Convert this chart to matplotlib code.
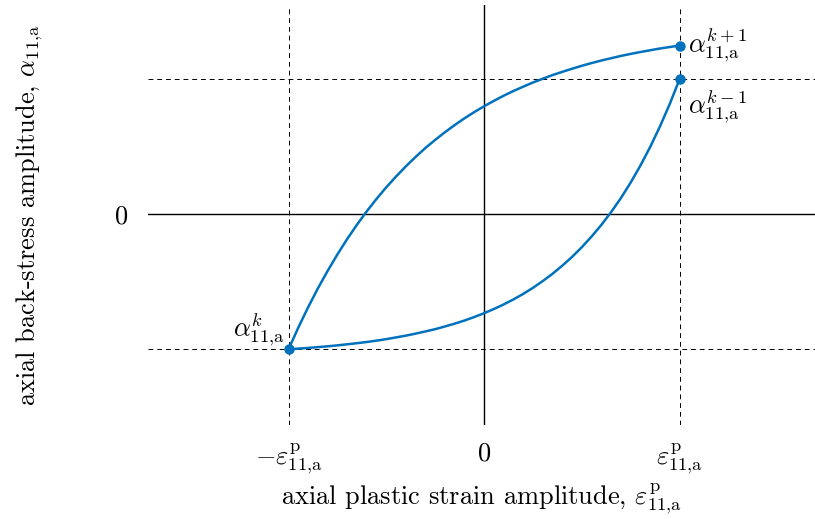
import matplotlib
matplotlib.use("Agg")
import matplotlib.pyplot as plt

plt.rcParams["font.family"] = "serif"
plt.rcParams["font.serif"] = ["cmr10", "DejaVu Serif"]
plt.rcParams["mathtext.fontset"] = "cm"
plt.rcParams["axes.formatter.use_mathtext"] = True

# Loading branch: from alpha^k at (-eps, -1) up to alpha^{k+1}
load_strain = [-1.0, -0.95, -0.9, -0.85, -0.8, -0.75, -0.7, -0.65, -0.6, -0.55,
               -0.5, -0.45, -0.4, -0.35, -0.3, -0.25, -0.2, -0.15, -0.1, -0.05,
               0.0, 0.05, 0.1, 0.15, 0.2, 0.25, 0.3, 0.35, 0.4, 0.45, 0.5, 0.55,
               0.6, 0.65, 0.7, 0.75, 0.8, 0.85, 0.9, 0.95, 1.0]
load_alpha = [-1.000, -0.839, -0.689, -0.549, -0.419, -0.297, -0.183, -0.077,
              0.022, 0.114, 0.200, 0.280, 0.355, 0.425, 0.491, 0.551, 0.608,
              0.661, 0.711, 0.757, 0.800, 0.840, 0.878, 0.913, 0.945, 0.976,
              1.004, 1.031, 1.055, 1.078, 1.100, 1.120, 1.139, 1.156, 1.173,
              1.188, 1.202, 1.215, 1.228, 1.239, 1.250]

# Unloading branch: from alpha^{k-1} at (+eps, 1) down to alpha^k
unload_strain = load_strain
unload_alpha = [-1.000, -0.995, -0.990, -0.984, -0.978, -0.971, -0.963, -0.955,
                -0.946, -0.936, -0.925, -0.912, -0.899, -0.884, -0.868, -0.851,
                -0.831, -0.810, -0.787, -0.761, -0.733, -0.702, -0.668, -0.631,
                -0.590, -0.545, -0.495, -0.441, -0.381, -0.316, -0.244, -0.165,
                -0.079, 0.016, 0.120, 0.235, 0.361, 0.499, 0.651, 0.817, 1.000]

# Marked states
state_strain = [-1.0, 1.0, 1.0]
state_alpha = [-1.0, 1.0, 1.25]
state_labels = [r"$\alpha_{11{,}\mathrm{a}}^{k}$",
                r"$\alpha_{11{,}\mathrm{a}}^{k-1}$",
                r"$\alpha_{11{,}\mathrm{a}}^{k+1}$"]

xtick_vals = [-1.0, 0.0, 1.0]
xtick_labels = [r"$-\varepsilon_{11{,}\mathrm{a}}^{\mathrm{p}}$", r"$0$",
                r"$\varepsilon_{11{,}\mathrm{a}}^{\mathrm{p}}$"]
ytick_vals = [0.0]
ytick_labels = [r"$0$"]

blue = "#0072BD"

fig = plt.figure(figsize=(8.15, 5.19), dpi=100)
ax = fig.add_axes([0.1816, 0.1811, 0.8184, 0.8092])
ax.set_xlim(-1.719, 1.693)
ax.set_ylim(-1.561, 1.55)

# Reference lines
for v in [-1.0, 1.0]:
    ax.axvline(v, color="black", lw=0.7, ls=(0, (5, 4)), zorder=1)
    ax.axhline(v, color="black", lw=0.7, ls=(0, (5, 4)), zorder=1)
ax.axvline(0, color="black", lw=1.0, zorder=1)
ax.axhline(0, color="black", lw=1.0, zorder=1)

ax.plot(load_strain, load_alpha, color=blue, lw=1.8, zorder=3)
ax.plot(unload_strain, unload_alpha, color=blue, lw=1.8, zorder=3)
ax.plot(state_strain, state_alpha, "o", color=blue, ms=6.5, zorder=4)

fs = 19
ax.annotate(state_labels[0], (state_strain[0], state_alpha[0]),
            xytext=(-3, 1), textcoords="offset points", fontsize=fs,
            ha="right", va="bottom")
ax.annotate(state_labels[1], (state_strain[1], state_alpha[1]),
            xytext=(6, -6), textcoords="offset points", fontsize=fs,
            ha="left", va="top")
ax.annotate(state_labels[2], (state_strain[2], state_alpha[2]),
            xytext=(6, 1), textcoords="offset points", fontsize=fs,
            ha="left", va="center")

for s in ax.spines.values():
    s.set_visible(False)
ax.set_xticks(xtick_vals)
ax.set_xticklabels(xtick_labels, fontsize=fs)
ax.set_yticks(ytick_vals)
ax.set_yticklabels(ytick_labels, fontsize=fs)
ax.tick_params(axis="x", length=0, pad=12)
ax.tick_params(axis="y", length=0, pad=14)

ax.set_xlabel(r"axial plastic strain amplitude, $\varepsilon_{11{,}\mathrm{a}}^{\mathrm{p}}$",
              fontsize=fs)
ax.xaxis.set_label_coords(0.5, -0.135)
ax.set_ylabel(r"axial back-stress amplitude, $\alpha_{11{,}\mathrm{a}}$",
              fontsize=fs)
ax.yaxis.set_label_coords(-0.155, 0.5)

fig.savefig("out.png", dpi=100)
